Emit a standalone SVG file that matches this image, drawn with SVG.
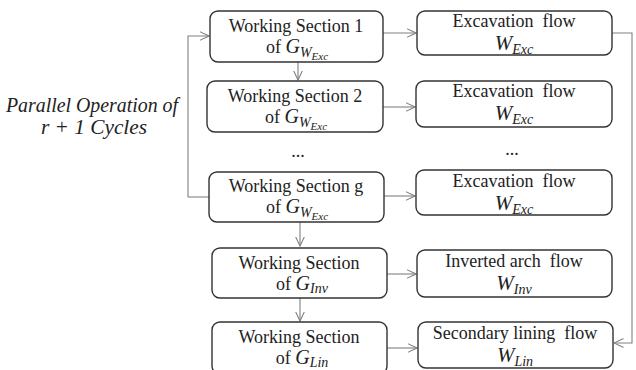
<svg xmlns="http://www.w3.org/2000/svg" width="636" height="370" viewBox="0 0 636 370">
<style>
.box{fill:#fff;stroke:#333;stroke-width:1.4}
.t{font-family:'Liberation Serif','Times New Roman','DejaVu Serif',serif;font-size:18px;fill:#222;text-anchor:middle;white-space:pre}
.i{font-style:italic}
.w{font-family:'Liberation Serif','Times New Roman','DejaVu Serif',serif;font-style:italic;font-size:21px;fill:#222;text-anchor:middle}
.c{fill:none;stroke:#808080;stroke-width:1.1}
.lab{font-family:'Liberation Serif','Times New Roman','DejaVu Serif',serif;font-style:italic;font-size:20px;fill:#222;text-anchor:middle}
</style>
<defs>
<marker id="arr" viewBox="0 0 10 10" refX="9.5" refY="5" markerWidth="10" markerHeight="10" markerUnits="userSpaceOnUse" orient="auto">
<path d="M0,0.5 L9.5,5 L0,9.5" fill="none" stroke="#808080" stroke-width="1.1"/>
</marker>
</defs>
<g id="label">
<text class="lab" x="92" y="112" textLength="172" lengthAdjust="spacingAndGlyphs">Parallel Operation of</text>
<text class="lab" x="94" y="134" textLength="106" lengthAdjust="spacingAndGlyphs">r + 1 Cycles</text>
</g>
<g id="connectors">
<path class="c" d="M188,197 L188,36 L209,36" marker-end="url(#arr)"/>
<path class="c" d="M188,197 L209,197"/>
<path class="c" d="M298,62 L298,80" marker-end="url(#arr)"/>
<path class="c" d="M300,222 L300,246" marker-end="url(#arr)"/>
<path class="c" d="M300,298 L300,321" marker-end="url(#arr)"/>
<path class="c" d="M383,33 L416,33" marker-end="url(#arr)"/>
<path class="c" d="M383,107 L415,107" marker-end="url(#arr)"/>
<path class="c" d="M384,196 L415,196" marker-end="url(#arr)"/>
<path class="c" d="M387,274 L416,274" marker-end="url(#arr)"/>
<path class="c" d="M387,348 L417,348" marker-end="url(#arr)"/>
<path class="c" d="M612,33 L632,33 L632,343 L614,343" marker-end="url(#arr)"/>
</g>
<g id="ws1">
<rect class="box" x="210" y="11" width="173" height="51" rx="8"/>
<text class="t" x="296" y="32">Working Section 1</text>
<text class="t" x="297" y="53">of <tspan class="i" font-size="20">G</tspan><tspan class="i" font-size="14" dy="4">W</tspan><tspan class="i" font-size="11" dy="3">Exc</tspan></text>
</g>
<g id="ws2">
<rect class="box" x="207" y="81" width="176" height="51" rx="8"/>
<text class="t" x="295" y="102">Working Section 2</text>
<text class="t" x="296" y="123">of <tspan class="i" font-size="20">G</tspan><tspan class="i" font-size="14" dy="4">W</tspan><tspan class="i" font-size="11" dy="3">Exc</tspan></text>
</g>
<text class="t" x="298" y="157">...</text>
<g id="wsg">
<rect class="box" x="209" y="172" width="175" height="50" rx="8"/>
<text class="t" x="296" y="192">Working Section g</text>
<text class="t" x="297" y="213">of <tspan class="i" font-size="20">G</tspan><tspan class="i" font-size="14" dy="4">W</tspan><tspan class="i" font-size="11" dy="3">Exc</tspan></text>
</g>
<g id="wsinv">
<rect class="box" x="212" y="248" width="175" height="50" rx="8"/>
<text class="t" x="299" y="269">Working Section</text>
<text class="t" x="302" y="290">of <tspan class="i" font-size="20">G</tspan><tspan class="i" font-size="14" dy="3">Inv</tspan></text>
</g>
<g id="wslin">
<rect class="box" x="212" y="322" width="175" height="52" rx="8"/>
<text class="t" x="299" y="343">Working Section</text>
<text class="t" x="302" y="364">of <tspan class="i" font-size="20">G</tspan><tspan class="i" font-size="14" dy="3">Lin</tspan></text>
</g>
<g id="exc1">
<rect class="box" x="417" y="11" width="195" height="44" rx="8"/>
<text class="t" x="514" y="27">Excavation  flow</text>
<text class="w" x="514" y="50">W<tspan font-size="14" dy="4">Exc</tspan></text>
</g>
<g id="exc2">
<rect class="box" x="416" y="81" width="196" height="46" rx="8"/>
<text class="t" x="514" y="97">Excavation  flow</text>
<text class="w" x="514" y="120">W<tspan font-size="14" dy="4">Exc</tspan></text>
</g>
<text class="t" x="512" y="155">...</text>
<g id="excg">
<rect class="box" x="416" y="170" width="196" height="45" rx="8"/>
<text class="t" x="514" y="187">Excavation  flow</text>
<text class="w" x="514" y="210">W<tspan font-size="14" dy="4">Exc</tspan></text>
</g>
<g id="inv">
<rect class="box" x="417" y="250" width="195" height="47" rx="8"/>
<text class="t" x="514" y="267">Inverted arch  flow</text>
<text class="w" x="514" y="290">W<tspan font-size="14" dy="4">Inv</tspan></text>
</g>
<g id="lin">
<rect class="box" x="418" y="322" width="195" height="46" rx="8"/>
<text class="t" x="515" y="339">Secondary lining  flow</text>
<text class="w" x="515" y="362">W<tspan font-size="14" dy="4">Lin</tspan></text>
</g>
</svg>
